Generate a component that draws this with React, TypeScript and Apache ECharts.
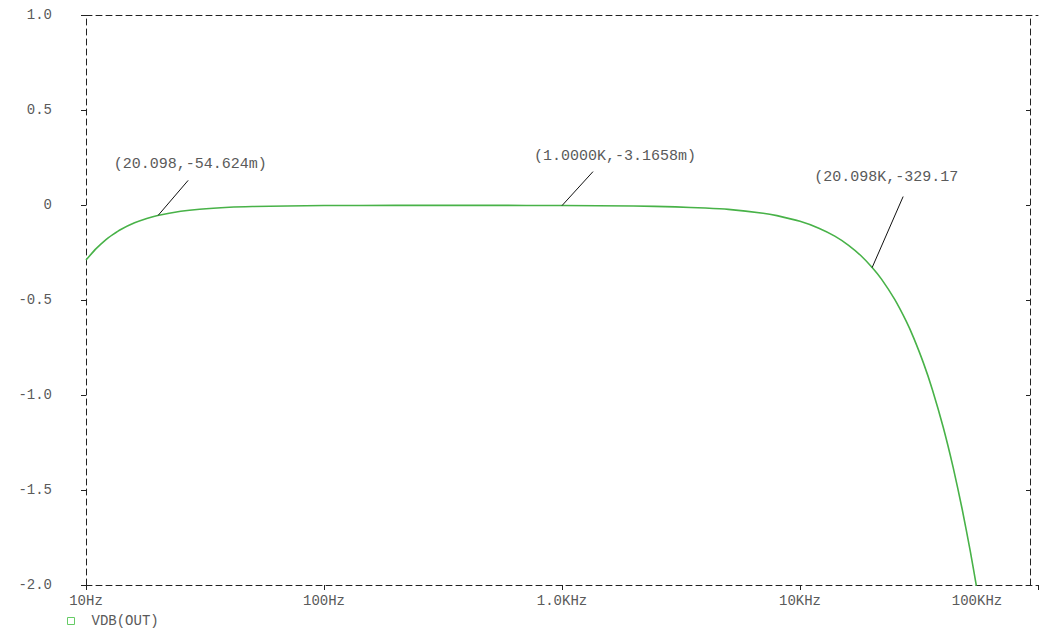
import React, { useEffect, useRef } from "react";
import * as echarts from "echarts";

// Frequency sweep (Hz) and VDB(OUT) values (dB)
const freqs = [10, 11, 12, 13, 14, 16, 18, 20, 25, 30, 40, 50, 70, 100, 200, 300, 500, 1000, 2000, 3000, 4000, 5000, 7000, 8000, 10000, 12000, 14000, 16000, 18000, 20098, 22000, 25000, 28000, 30000, 33000, 36000, 40000, 44000, 48000, 52000, 55000, 58000];
const vdb = [-0.29, -0.231, -0.187, -0.155, -0.129, -0.094, -0.071, -0.055, -0.033, -0.022, -0.012, -0.008, -0.005, -0.003, -0.002, -0.002, -0.002, -0.003, -0.005, -0.01, -0.016, -0.023, -0.043, -0.056, -0.086, -0.122, -0.164, -0.212, -0.266, -0.329, -0.39, -0.497, -0.614, -0.698, -0.831, -0.972, -1.171, -1.381, -1.6, -1.826, -1.999, -2.17];

// Cursor markers
const markerFreqs = [20.098, 1000, 20098];
const markerValues = [-0.054624, -0.0031658, -0.32917];
const markerLabels = ["(20.098,-54.624m)", "(1.0000K,-3.1658m)", "(20.098K,-329.17"];

// Axis tick labels
const xTickValues = [10, 100, 1000, 10000, 100000];
const xTickLabels = ["10Hz", "100Hz", "1.0KHz", "10KHz", "100KHz"];
const yTickValues = [1, 0.5, 0, -0.5, -1, -1.5, -2];
const yTickLabels = ["1.0", "0.5", "0", "-0.5", "-1.0", "-1.5", "-2.0"];

// Label offsets (pixels) relative to each marker point – styling only
const markerOffsets = [
  { lx: 30, ly: -35, tx: 32, ty: -51 },
  { lx: 31, ly: -34, tx: 53, ty: -49 },
  { lx: 31, ly: -71, tx: 14, ty: -90 },
];

const MONO = "'Liberation Mono', 'DejaVu Sans Mono', monospace";
const FRAME = "#222";
const TEXT = "#5a5a5a";
const GREEN = "#48b248";

export default function App() {
  const ref = useRef<HTMLDivElement>(null);

  useEffect(() => {
    if (!ref.current) return;
    const chart = echarts.init(ref.current, undefined, { renderer: "svg" });

    const dashed = { color: FRAME, width: 1, type: [6, 4] as any };

    const option: any = {
      animation: false,
      backgroundColor: "#fff",
      grid: { left: 86, right: 2, top: 15, bottom: 47, containLabel: false },
      legend: {
        data: ["VDB(OUT)"],
        left: 62,
        top: 609,
        icon: "rect",
        itemWidth: 7,
        itemHeight: 7,
        itemStyle: { color: "#fff", borderColor: "#6c6", borderWidth: 1 },
        textStyle: { color: TEXT, fontFamily: MONO, fontSize: 14, padding: [0, 0, 0, 12] },
      },
      xAxis: [
        {
          type: "log",
          logBase: 10,
          min: 10,
          max: 100000,
          position: "bottom",
          axisLine: { show: true, onZero: false, lineStyle: dashed },
          axisTick: { show: true, length: 5, lineStyle: { color: FRAME } },
          splitLine: { show: false },
          minorTick: { show: false },
          axisLabel: {
            show: true,
            margin: 9,
            showMinLabel: true,
            showMaxLabel: true,
            color: TEXT,
            fontFamily: MONO,
            fontSize: 14,
            formatter: (v: number) => {
              const i = xTickValues.findIndex((t) => Math.abs(Math.log10(t) - Math.log10(v)) < 1e-6);
              if (i < 0) return "";
              if (i === xTickValues.length - 1) return "{m|" + xTickLabels[i] + "}";
              return xTickLabels[i];
            },
            rich: {
              m: { color: TEXT, fontFamily: MONO, fontSize: 14, padding: [0, 122, 0, 0] },
            },
          },
        },
        {
          type: "log",
          logBase: 10,
          min: 10,
          max: 100000,
          position: "top",
          axisLine: { show: true, onZero: false, lineStyle: dashed },
          axisTick: { show: false },
          axisLabel: { show: false },
          splitLine: { show: false },
        },
      ],
      yAxis: [
        {
          type: "value",
          min: -2,
          max: 1,
          interval: 0.5,
          position: "left",
          axisLine: { show: true, onZero: false, lineStyle: dashed },
          axisTick: { show: true, length: 5, lineStyle: { color: FRAME } },
          splitLine: { show: false },
          axisLabel: {
            margin: 34,
            color: TEXT,
            fontFamily: MONO,
            fontSize: 14,
            showMinLabel: true,
            showMaxLabel: true,
            formatter: (v: number) => {
              const i = yTickValues.findIndex((t) => Math.abs(t - v) < 1e-9);
              return i < 0 ? "" : yTickLabels[i];
            },
          },
        },
        {
          type: "value",
          min: -2,
          max: 1,
          interval: 0.5,
          position: "right",
          offset: -8,
          axisLine: { show: true, onZero: false, lineStyle: dashed },
          axisTick: { show: true, inside: true, length: 4, lineStyle: { color: FRAME } },
          axisLabel: { show: false },
          splitLine: { show: false },
        },
      ],
      series: [
        {
          name: "VDB(OUT)",
          type: "line",
          xAxisIndex: 0,
          yAxisIndex: 0,
          data: freqs.map((f, i) => [f, vdb[i]]),
          symbol: "none",
          smooth: 0.2,
          clip: true,
          lineStyle: { color: GREEN, width: 1.6 },
          itemStyle: { color: GREEN },
          z: 3,
        },
        {
          name: "cursor",
          type: "custom",
          xAxisIndex: 0,
          yAxisIndex: 0,
          silent: true,
          z: 5,
          data: markerFreqs.map((f, i) => [f, markerValues[i], i]),
          renderItem: (params: any, api: any) => {
            const i = api.value(2);
            const p = api.coord([api.value(0), api.value(1)]);
            const o = markerOffsets[i];
            return {
              type: "group",
              children: [
                {
                  type: "line",
                  shape: { x1: p[0], y1: p[1], x2: p[0] + o.lx, y2: p[1] + o.ly },
                  style: { stroke: "#111", lineWidth: 1 },
                },
                {
                  type: "text",
                  x: p[0] + o.tx,
                  y: p[1] + o.ty,
                  style: {
                    text: markerLabels[i],
                    fill: TEXT,
                    fontFamily: MONO,
                    fontSize: 15,
                    align: "center",
                    verticalAlign: "middle",
                  },
                },
              ],
            };
          },
        },
      ],
    };

    chart.setOption(option);
    return () => chart.dispose();
  }, []);

  return (
    <div
      ref={ref}
      style={{ position: "fixed", left: 0, top: 0, width: 1040, height: 632, background: "#fff" }}
    />
  );
}
